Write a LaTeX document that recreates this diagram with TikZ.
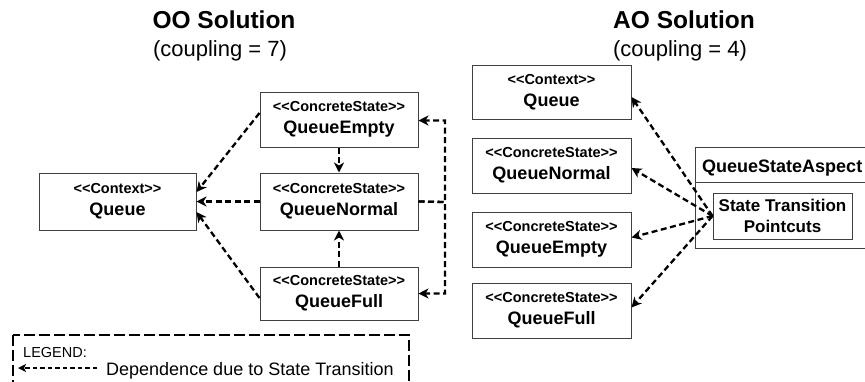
\documentclass[tikz,border=0pt]{standalone}
\usepackage{fontspec}
\setmainfont{Liberation Sans}
\usetikzlibrary{arrows.meta,calc}
\newcommand\stL{\mbox{<}\mbox{<}}
\newcommand\stR{\mbox{>}\mbox{>}}
\newcommand\stfont{\fontsize{14.5}{16}\selectfont\bfseries}
\tikzset{
  umlbox/.style={draw=black!75, line width=1pt, minimum width=158pt, minimum height=55pt,
    align=center, inner sep=0pt, font=\fontsize{18}{22}\selectfont\bfseries},
  dep/.style={line width=2.3pt, dash pattern=on 6pt off 3.5pt,
    -{Stealth[length=10pt,width=10pt,inset=3pt]}},
  legdep/.style={line width=1.8pt, dash pattern=on 4.5pt off 3pt,
    -{Stealth[length=8pt,width=8pt,inset=2pt]}},
  title/.style={anchor=base, font=\fontsize{24.5}{28}\selectfont\bfseries},
  subtitle/.style={anchor=base, font=\fontsize{22}{26}\selectfont},
}
\begin{document}
\begin{tikzpicture}[x=1pt,y=-1pt]
\clip (0,0) rectangle (865,381);
\fill[white] (0,0) rectangle (865,381);

% titles
\node[title] (ootitle) at (224,28.5) {OO Solution};
\node[subtitle] (oosub) at (220,56) {(coupling = 7)};
\node[title] (aotitle) at (684,28.5) {AO Solution};
\node[subtitle] (aosub) at (680,56) {(coupling = 4)};

% OO solution
\node[umlbox, minimum width=157pt, minimum height=57pt] (ooQ) at (117.5,201.5) {{\stfont\stL Context\stR}\\Queue};
\node[umlbox] (ooE) at (339,119.5) {{\stfont\stL ConcreteState\stR}\\QueueEmpty};
\node[umlbox, minimum height=57pt] (ooN) at (339,201.5) {{\stfont\stL ConcreteState\stR}\\QueueNormal};
\node[umlbox, minimum height=53pt] (ooF) at (339,293.5) {{\stfont\stL ConcreteState\stR}\\QueueFull};

\draw[dep] ([yshift=6.5pt]ooE.west) -- ([yshift=9.5pt]ooQ.east);
\draw[dep] (ooN.west) -- (ooQ.east);
\draw[dep] ([yshift=-4.5pt]ooF.west) -- ([yshift=-10.5pt]ooQ.east);
\draw[dep] (ooE.south) -- (ooN.north);
\draw[dep] (ooF.north) -- (ooN.south);
\coordinate (loopx) at (445,202);
\draw[dep] (ooN.east) -- (loopx) |- ([yshift=-1pt]ooE.east);
\draw[dep] (ooN.east) -- (loopx) |- (ooF.east);

% legend
\draw[line width=1.8pt, dash pattern=on 11pt off 4pt] (13,335) rectangle (409,400);
\node[anchor=base west, font=\fontsize{14.5}{17}\selectfont, inner sep=0pt] (legt) at (23,357) {LEGEND:};
\node[anchor=base west, font=\fontsize{18}{22}\selectfont, inner sep=0pt] (legd) at (106,375) {Dependence due to State Transition};
\coordinate (legA) at (97,368);
\coordinate (legB) at (18,368);
\draw[legdep] (legA) -- (legB);

% AO solution
\node[umlbox, minimum width=159pt, minimum height=54pt] (aoQ) at (551.5,92) {{\stfont\stL Context\stR}\\Queue};
\node[umlbox, minimum width=159pt] (aoN) at (551.5,165.5) {{\stfont\stL ConcreteState\stR}\\QueueNormal};
\node[umlbox, minimum width=159pt] (aoE) at (551.5,239.5) {{\stfont\stL ConcreteState\stR}\\QueueEmpty};
\node[umlbox, minimum width=159pt] (aoF) at (551.5,310.5) {{\stfont\stL ConcreteState\stR}\\QueueFull};

\node[draw=black!75, line width=1pt, minimum width=190pt, minimum height=101pt, inner sep=0pt] (asp) at (790,197.5) {};
\draw[draw=black!75, line width=1pt] (asp.west |- 0,182) -- (asp.east |- 0,182);
\node[anchor=base west, inner sep=0pt, font=\fontsize{18}{22}\selectfont\bfseries] (aspt) at (702,172) {QueueStateAspect};
\node[umlbox, minimum width=139pt, minimum height=46pt, font=\fontsize{17}{21}\selectfont\bfseries] (pc) at (782.5,216) {State Transition\\Pointcuts};

\draw[dep] (pc.west) -- ([yshift=-5pt]aoQ.east);
\draw[dep] (pc.west) -- ([yshift=-2.5pt]aoN.east);
\draw[dep] (pc.west) -- ([yshift=2pt]aoE.east);
\draw[dep] (pc.west) -- ([yshift=3pt]aoF.east);
\end{tikzpicture}
\end{document}
